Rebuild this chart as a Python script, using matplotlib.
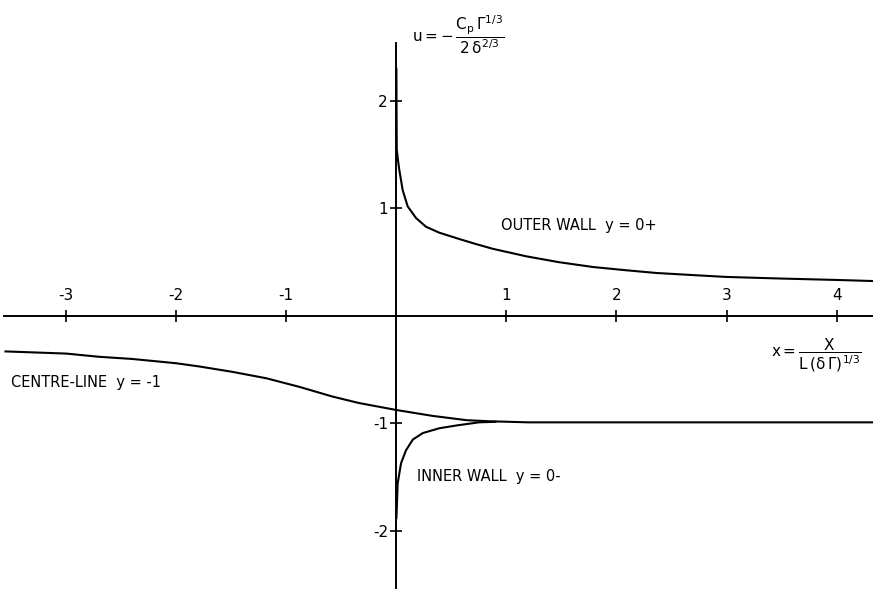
import matplotlib
matplotlib.use("Agg")
import matplotlib.pyplot as plt

plt.rcParams['mathtext.default'] = 'regular'

# values
outer_x = [0.0008, 0.002, 0.004, 0.015, 0.027, 0.058, 0.103, 0.18, 0.27, 0.39, 0.575, 0.72, 0.876,
           1.18, 1.48, 1.79, 2.09, 2.36, 2.7, 3.0, 3.5, 4.0, 4.33]
outer_u = [2.30, 1.95, 1.55, 1.45, 1.36, 1.17, 1.02, 0.91, 0.83, 0.775, 0.715, 0.67, 0.625,
           0.555, 0.50, 0.455, 0.425, 0.40, 0.38, 0.363, 0.348, 0.335, 0.325]

centre_x = [-3.55, -3.0, -2.7, -2.4, -2.0, -1.79, -1.49, -1.18, -0.88, -0.58, -0.34, 0.0, 0.33,
            0.64, 0.85, 1.2, 2.0, 3.0, 4.33]
centre_u = [-0.33, -0.35, -0.38, -0.40, -0.44, -0.47, -0.52, -0.58, -0.66, -0.75, -0.81, -0.875, -0.93,
            -0.97, -0.98, -0.99, -0.99, -0.99, -0.99]

inner_x = [0.0008, 0.004, 0.012, 0.043, 0.088, 0.15, 0.24, 0.39, 0.54, 0.75, 0.9]
inner_u = [-1.88, -1.80, -1.56, -1.37, -1.25, -1.15, -1.09, -1.045, -1.02, -0.99, -0.985]

xticks = [-3, -2, -1, 1, 2, 3, 4]
yticks = [-2, -1, 1, 2]

fig = plt.figure(figsize=(8.73, 5.90), dpi=100)
ax = fig.add_axes([0, 0, 1, 1])
ax.set_xlim(-3.60, 4.33)
ax.set_ylim(-2.55, 2.94)

ax.spines['top'].set_visible(False)
ax.spines['right'].set_visible(False)
ax.spines['left'].set_position('zero')
ax.spines['bottom'].set_position('zero')
ax.spines['left'].set_bounds(-2.53, 2.54)
ax.spines['bottom'].set_bounds(-3.56, 4.33)
for s in ['left', 'bottom']:
    ax.spines[s].set_linewidth(1.4)

ax.set_xticks(xticks)
ax.set_yticks(yticks)
ax.set_xticklabels([str(t) for t in xticks])
ax.set_yticklabels([str(t) for t in yticks])
ax.tick_params(axis='both', direction='inout', length=8, width=1.2, labelsize=11)
ax.tick_params(axis='x', pad=-24)
ax.tick_params(axis='y', pad=2)
ax.patch.set_visible(False)

ax.plot(outer_x, outer_u, color='black', lw=1.5)
ax.plot(centre_x, centre_u, color='black', lw=1.5)
ax.plot(inner_x, inner_u, color='black', lw=1.5)

ax.text(0.95, 0.84, 'OUTER WALL  y = 0+', fontsize=10.5, va='center', ha='left')
ax.text(-3.50, -0.62, 'CENTRE-LINE  y = -1', fontsize=10.5, va='center', ha='left')
ax.text(0.19, -1.49, 'INNER WALL  y = 0-', fontsize=10.5, va='center', ha='left')

ax.text(0.14, 2.62, r'$u = -\,\dfrac{C_p\,\Gamma^{1/3}}{2\,\delta^{2/3}}$', fontsize=11, va='center', ha='left')
ax.text(3.40, -0.37, r'$x = \dfrac{X}{L\,(\delta\,\Gamma)^{1/3}}$', fontsize=11, va='center', ha='left')

fig.savefig('out.png', dpi=100)
